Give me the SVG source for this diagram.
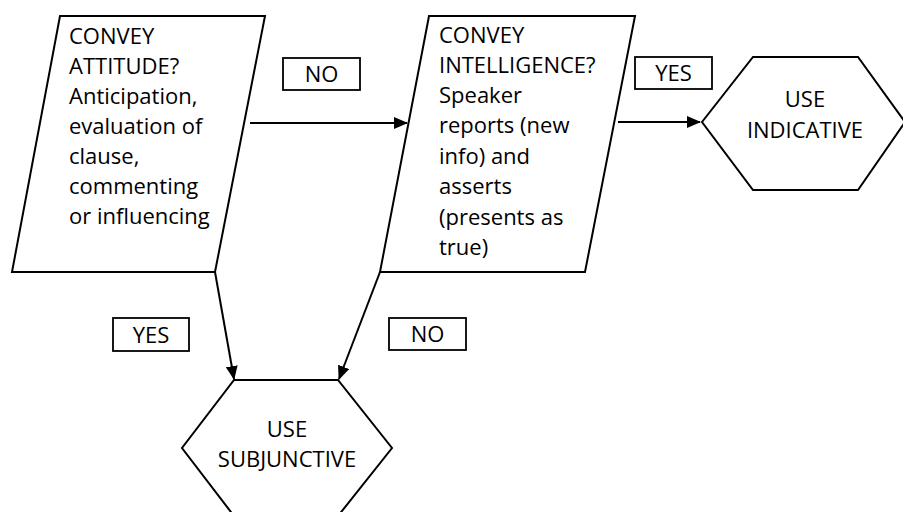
<svg xmlns="http://www.w3.org/2000/svg" width="903" height="512" viewBox="0 0 903 512">
<style>
.shape{fill:#fff;stroke:#000;stroke-width:2;stroke-linejoin:miter}
.lbl{fill:#fff;stroke:#000;stroke-width:1.8}
.t{font-family:"Open Sans","Liberation Sans",Arial,sans-serif;font-size:22px;fill:#000}
.c{text-anchor:middle}
.conn{stroke:#000;stroke-width:2;fill:none}
</style>
<defs>
<marker id="ah" markerWidth="14" markerHeight="12" refX="13" refY="6" orient="auto" markerUnits="userSpaceOnUse">
<path d="M0,0 L14,6 L0,12 Z" fill="#000"/>
</marker>
</defs>
<rect width="903" height="512" fill="#fff"/>
<g id="attitude">
<polygon class="shape" points="60,16 265,16 215,272 12,272"/>
<text class="t" x="69" y="44">CONVEY</text>
<text class="t" x="69" y="74">ATTITUDE?</text>
<text class="t" x="69" y="104">Anticipation,</text>
<text class="t" x="69" y="134">evaluation of</text>
<text class="t" x="69" y="164">clause,</text>
<text class="t" x="69" y="194">commenting</text>
<text class="t" x="69" y="224">or influencing</text>
</g>
<g id="intelligence">
<polygon class="shape" points="429,16 635,16 585,272 380,272"/>
<text class="t" x="439" y="43">CONVEY</text>
<text class="t" x="439" y="73">INTELLIGENCE?</text>
<text class="t" x="439" y="103">Speaker</text>
<text class="t" x="439" y="133">reports (new</text>
<text class="t" x="439" y="164">info) and</text>
<text class="t" x="439" y="194">asserts</text>
<text class="t" x="439" y="225">(presents as</text>
<text class="t" x="439" y="255">true)</text>
</g>
<g id="indicative">
<polygon class="shape" points="702,122 753,57 858,57 905,122 858,190 753,190"/>
<text class="t c" x="805" y="107">USE</text>
<text class="t c" x="805" y="138">INDICATIVE</text>
</g>
<g id="subjunctive">
<polygon class="shape" points="234,380 338,380 392,448 338,516 234,516 182,448"/>
<text class="t c" x="287" y="437">USE</text>
<text class="t c" x="287" y="467">SUBJUNCTIVE</text>
</g>
<g id="connectors">
<line class="conn" x1="250" y1="123" x2="407" y2="123" marker-end="url(#ah)"/>
<line class="conn" x1="618" y1="122" x2="700" y2="122" marker-end="url(#ah)"/>
<line class="conn" x1="215" y1="272" x2="234" y2="379" marker-end="url(#ah)"/>
<line class="conn" x1="380" y1="272" x2="339" y2="379" marker-end="url(#ah)"/>
</g>
<g id="label-no-top">
<rect class="lbl" x="283" y="58" width="77" height="32"/>
<text class="t c" x="321.5" y="82">NO</text>
</g>
<g id="label-yes-top">
<rect class="lbl" x="635" y="57" width="77" height="32"/>
<text class="t c" x="673.5" y="81">YES</text>
</g>
<g id="label-yes-bottom">
<rect class="lbl" x="113" y="318" width="76" height="33"/>
<text class="t c" x="151" y="343">YES</text>
</g>
<g id="label-no-bottom">
<rect class="lbl" x="389" y="318" width="77" height="32"/>
<text class="t c" x="427.5" y="342">NO</text>
</g>
</svg>
